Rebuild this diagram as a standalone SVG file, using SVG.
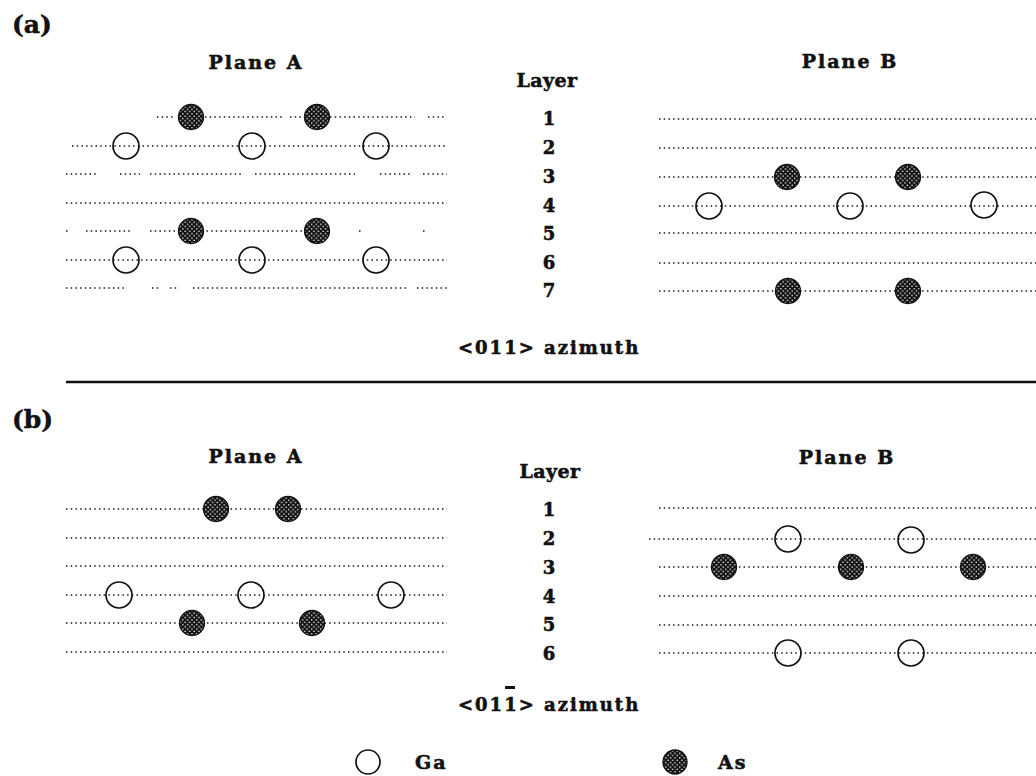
<svg xmlns="http://www.w3.org/2000/svg" width="1036" height="776" viewBox="0 0 1036 776">
<style>
  text { font-family: "DejaVu Serif", "Liberation Serif", serif; font-weight: bold; fill: #111; stroke: #111; stroke-width: 0.55; }
  .lbl { font-size: 25px; }
  .plane { font-size: 19px; letter-spacing: 2px; text-anchor: middle; }
  .layer { font-size: 19px; letter-spacing: 0.4px; text-anchor: middle; }
  .num { font-size: 18px; text-anchor: middle; }
  .az { font-size: 18px; letter-spacing: 2px; }
  .leg { font-size: 19px; letter-spacing: 2px; }
  .row { stroke: #1a1a1a; stroke-width: 1.5; stroke-dasharray: 1.5 3.2; fill: none; }
  .ga { fill: none; stroke: #111; stroke-width: 1.7; }
  .as { fill: url(#hatch); stroke: #111; stroke-width: 1.3; }
</style>
<defs>
  <pattern id="hatch" patternUnits="userSpaceOnUse" width="4.6" height="4.6">
    <rect width="4.6" height="4.6" fill="#111"/>
    <circle cx="1.15" cy="1.15" r="0.8" fill="#fff"/>
    <circle cx="3.45" cy="3.45" r="0.8" fill="#fff"/>
  </pattern>
</defs>
<rect width="1036" height="776" fill="#fff"/>

<g id="labels">
  <text class="lbl" x="12" y="33">(a)</text>
  <text class="lbl" x="12" y="428">(b)</text>
  <text class="plane" x="256" y="69">Plane A</text>
  <text class="plane" x="850" y="68">Plane B</text>
  <text class="layer" x="547" y="87">Layer</text>
  <text class="plane" x="256" y="463">Plane A</text>
  <text class="plane" x="847" y="464">Plane B</text>
  <text class="layer" x="550" y="478">Layer</text>
</g>

<g id="layer-numbers-a">
  <text class="num" x="549" y="125">1</text>
  <text class="num" x="549" y="154">2</text>
  <text class="num" x="549" y="183">3</text>
  <text class="num" x="549" y="212">4</text>
  <text class="num" x="549" y="240">5</text>
  <text class="num" x="549" y="269">6</text>
  <text class="num" x="549" y="297">7</text>
</g>
<g id="layer-numbers-b">
  <text class="num" x="549" y="516">1</text>
  <text class="num" x="549" y="545">2</text>
  <text class="num" x="549" y="574">3</text>
  <text class="num" x="549" y="603">4</text>
  <text class="num" x="549" y="631">5</text>
  <text class="num" x="549" y="660">6</text>
</g>

<g id="rows">
  <!-- (a) Plane A -->
  <path class="row" d="M157 117H173 M205 117H282 M290 117H305 M330 117H415 M428 117H447"/>
  <path class="row" d="M72 146H447"/>
  <path class="row" d="M66 174H97 M120 174H140 M150 174H243 M255 174H355 M380 174H410 M423 174H447"/>
  <path class="row" d="M66 203H447"/>
  <path class="row" d="M66 231H68 M86 231H130 M150 231H305 M359 231H361 M423 231H425"/>
  <path class="row" d="M66 260H447"/>
  <path class="row" d="M66 288H125 M152 288H160 M170 288H178 M193 288H407 M417 288H447"/>
  <!-- (a) Plane B -->
  <path class="row" d="M659 119H1036"/>
  <path class="row" d="M659 148H1036"/>
  <path class="row" d="M659 177H1036"/>
  <path class="row" d="M659 206H1036"/>
  <path class="row" d="M659 233H1036"/>
  <path class="row" d="M659 263H1036"/>
  <path class="row" d="M659 291H1036"/>
  <!-- (b) Plane A -->
  <path class="row" d="M66 509H447"/>
  <path class="row" d="M66 538H447"/>
  <path class="row" d="M66 566H447"/>
  <path class="row" d="M66 595H447"/>
  <path class="row" d="M66 623H447"/>
  <path class="row" d="M66 652H447"/>
  <!-- (b) Plane B -->
  <path class="row" d="M659 508H1036"/>
  <path class="row" d="M649 539H1036"/>
  <path class="row" d="M659 567H1036"/>
  <path class="row" d="M659 596H1036"/>
  <path class="row" d="M659 625H1036"/>
  <path class="row" d="M659 653H1036"/>
</g>

<g id="atoms-a-planeA">
  <circle class="as" cx="191" cy="117" r="12.5"/>
  <circle class="as" cx="317" cy="117" r="12.5"/>
  <circle class="ga" cx="126" cy="146" r="13"/>
  <circle class="ga" cx="252" cy="146" r="13"/>
  <circle class="ga" cx="376" cy="146" r="13"/>
  <circle class="as" cx="191" cy="231" r="12.5"/>
  <circle class="as" cx="317" cy="231" r="12.5"/>
  <circle class="ga" cx="126" cy="260" r="13"/>
  <circle class="ga" cx="252" cy="260" r="13"/>
  <circle class="ga" cx="376" cy="260" r="13"/>
</g>
<g id="atoms-a-planeB">
  <circle class="as" cx="787" cy="177" r="12.5"/>
  <circle class="as" cx="908" cy="177" r="12.5"/>
  <circle class="ga" cx="709" cy="206" r="13"/>
  <circle class="ga" cx="850" cy="206" r="13"/>
  <circle class="ga" cx="984" cy="205" r="13"/>
  <circle class="as" cx="788" cy="291" r="12.5"/>
  <circle class="as" cx="908" cy="291" r="12.5"/>
</g>
<g id="atoms-b-planeA">
  <circle class="as" cx="216" cy="509" r="12.5"/>
  <circle class="as" cx="288" cy="509" r="12.5"/>
  <circle class="ga" cx="119" cy="595" r="13"/>
  <circle class="ga" cx="251" cy="595" r="13"/>
  <circle class="ga" cx="391" cy="595" r="13"/>
  <circle class="as" cx="192" cy="623" r="12.5"/>
  <circle class="as" cx="312" cy="623" r="12.5"/>
</g>
<g id="atoms-b-planeB">
  <circle class="ga" cx="788" cy="539" r="13"/>
  <circle class="ga" cx="911" cy="540" r="13"/>
  <circle class="as" cx="724" cy="567" r="12.5"/>
  <circle class="as" cx="851" cy="567" r="12.5"/>
  <circle class="as" cx="973" cy="567" r="12.5"/>
  <circle class="ga" cx="788" cy="653" r="13"/>
  <circle class="ga" cx="911" cy="653" r="13"/>
</g>

<g id="separator">
  <line x1="66" y1="382" x2="1036" y2="382" stroke="#111" stroke-width="2.5"/>
</g>

<g id="azimuths">
  <text class="az" x="458" y="354">&lt;011&gt; azimuth</text>
  <text class="az" x="458" y="711">&lt;011&gt; azimuth</text>
  <rect x="505" y="686" width="10" height="3" fill="#111"/>
</g>

<g id="legend">
  <circle class="ga" cx="368" cy="762" r="12"/>
  <text class="leg" x="415" y="769">Ga</text>
  <circle class="as" cx="675" cy="762" r="12"/>
  <text class="leg" x="718" y="769">As</text>
</g>
</svg>
